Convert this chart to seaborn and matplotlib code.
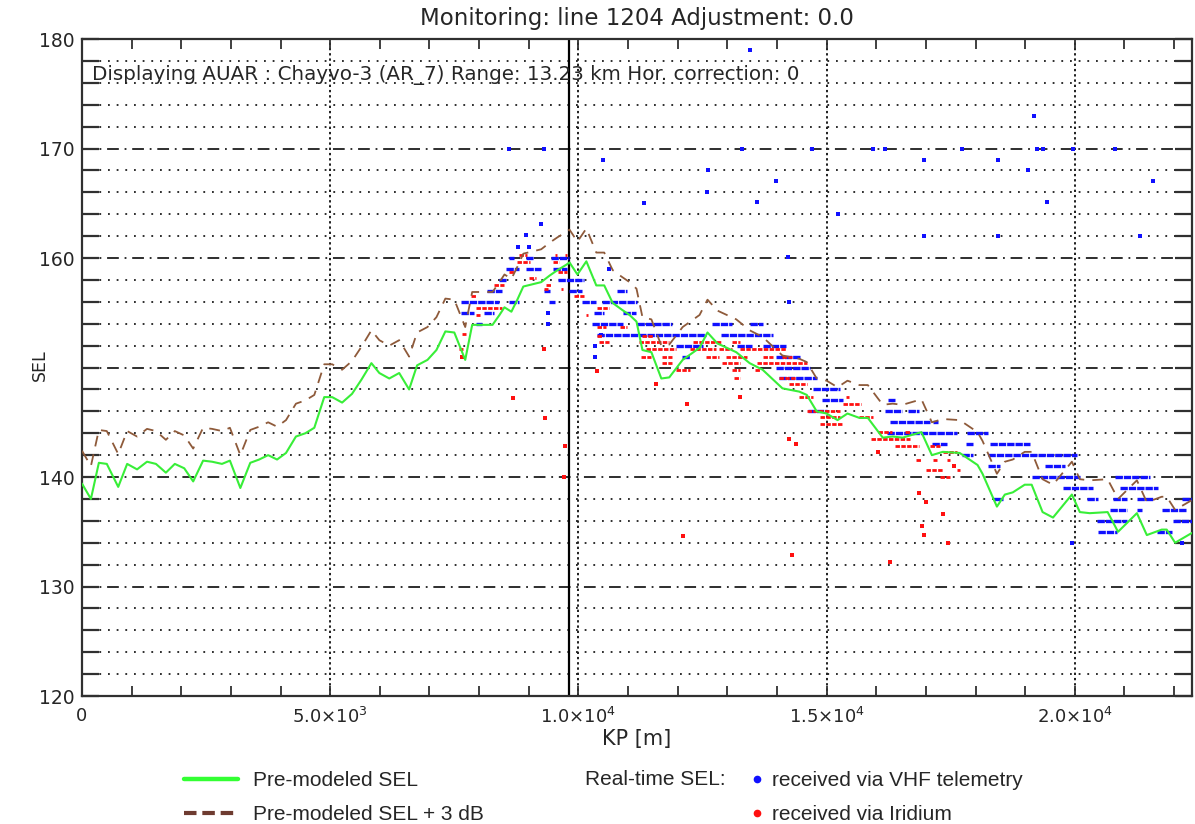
import matplotlib
matplotlib.use("Agg")
import matplotlib.pyplot as plt
from matplotlib.lines import Line2D
from matplotlib.ticker import FixedLocator, FixedFormatter, MultipleLocator
import pandas as pd
import seaborn as sns

# ---------------- data ----------------
kp_model = [0, 180, 340, 500, 730, 910, 1110, 1310, 1490, 1690, 1870, 2060, 2240, 2440, 2620, 2820, 2980,
            3190, 3390, 3570, 3750, 3930, 4110, 4310, 4500, 4680, 4880, 5040, 5240, 5440, 5630, 5830,
            5990, 6190, 6390, 6590, 6750, 6960, 7140, 7320, 7500, 7720, 7860, 8060, 8270, 8410, 8510,
            8650, 8770, 8890, 9070, 9250, 9420, 9580, 9760, 9820, 9980, 10160, 10360, 10520, 10690,
            10870, 11030, 11170, 11290, 11470, 11670, 11830, 12100, 12440, 12600, 12800, 13180, 13450,
            13710, 14110, 14450, 14600, 14800, 15000, 15220, 15420, 15660, 15830, 16130, 16330, 16530,
            16910, 17120, 17340, 17680, 18040, 18140, 18430, 18590, 18750, 18990, 19130, 19350, 19560,
            19940, 20100, 20300, 20660, 20870, 21250, 21450, 21750, 21850, 22020, 22360]
sel_model = [139.4, 138.0, 141.3, 141.2, 139.1, 141.2, 140.7, 141.4, 141.2, 140.4, 141.2, 140.8, 139.6,
             141.5, 141.4, 141.2, 141.5, 139.0, 141.3, 141.6, 142.0, 141.6, 142.2, 143.7, 144.0, 144.5,
             147.3, 147.3, 146.8, 147.6, 148.9, 150.4, 149.5, 149.0, 149.5, 148.0, 150.2, 150.7, 151.6,
             153.3, 153.2, 150.7, 153.9, 153.9, 153.9, 154.8, 155.5, 155.1, 156.2, 157.4, 157.6, 157.8,
             158.4, 158.9, 159.4, 159.6, 158.5, 159.7, 157.5, 157.5, 155.9, 155.3, 154.8, 154.2, 151.6,
             151.4, 149.0, 149.1, 150.7, 151.8, 153.2, 152.2, 151.4, 150.4, 149.8, 148.1, 147.8, 147.5,
             146.0, 145.8, 145.2, 145.8, 145.4, 145.4, 143.6, 143.7, 143.6, 144.1, 142.0, 142.3, 142.2,
             141.1, 140.3, 137.3, 138.4, 138.6, 139.3, 139.3, 136.8, 136.3, 138.4, 136.8, 136.7, 136.8,
             135.0, 136.7, 134.7, 135.2, 135.2, 134.0, 134.9]
sel_model_plus3 = [142.4, 141.0, 144.3, 144.2, 142.1, 144.2, 143.7, 144.4, 144.2, 143.4, 144.2, 143.8, 142.6,
                   144.5, 144.4, 144.2, 144.5, 142.0, 144.3, 144.6, 145.0, 144.6, 145.2, 146.7, 147.0, 147.5,
                   150.3, 150.3, 149.8, 150.6, 151.9, 153.4, 152.5, 152.0, 152.5, 151.0, 153.2, 153.7, 154.6,
                   156.3, 156.2, 153.7, 156.9, 156.9, 156.9, 157.8, 158.5, 158.1, 159.2, 160.4, 160.6, 160.8,
                   161.4, 161.9, 162.4, 162.6, 161.5, 162.7, 160.5, 160.5, 158.9, 158.3, 157.8, 157.2, 154.6,
                   154.4, 152.0, 152.1, 153.7, 154.8, 156.2, 155.2, 154.4, 153.4, 152.8, 151.1, 150.8, 150.5,
                   149.0, 148.8, 148.2, 148.8, 148.4, 148.4, 146.6, 146.7, 146.6, 147.1, 145.0, 145.3, 145.2,
                   144.1, 143.3, 140.3, 141.4, 141.6, 142.3, 142.3, 139.8, 139.3, 141.4, 139.8, 139.7, 139.8,
                   138.0, 139.7, 137.7, 138.2, 138.2, 137.0, 137.9]

# runs of dense real-time readings (VHF telemetry): start KP, end KP, SEL
vhf_run_start = [8610, 8950, 9450, 8550, 8950, 9480, 8410, 9580, 8160, 9310, 9820, 10770,
                 7640, 8610, 9410, 10080, 10480, 7640, 8100, 10320, 10890, 7940, 10280, 11190, 12700, 13450,
                 10380, 12880, 11970, 13200, 13710, 12080, 13990, 13990, 14050, 14720, 14900, 16230,
                 14620, 16170, 16630, 16270, 17140, 16210, 17820, 17130, 17800, 18290, 17720, 18250,
                 18250, 19390, 19130, 20800, 19760, 20900, 18350, 20240, 20770, 21250, 22150,
                 20700, 21250, 21750, 20440, 21970, 20460, 21650]
vhf_run_end = [8710, 9090, 9820, 8810, 9250, 9780, 8550, 10120, 8470, 9420, 10080, 10970,
               8410, 8810, 9520, 10360, 11190, 7900, 8300, 10520, 11170, 8060, 10900, 11890, 13100, 13710,
               12580, 13910, 12500, 13500, 14190, 12240, 14460, 14660, 14800, 15260, 15320, 16370,
               15000, 16510, 16870, 17080, 17240, 17620, 18250, 17420, 17940, 19090, 17940, 20040,
               18490, 19800, 20100, 21510, 20360, 21670, 18550, 20460, 21050, 21570, 22360,
               21050, 21350, 22260, 21050, 22360, 20850, 21950]
vhf_run_sel = [160, 160, 160, 159, 159, 159, 158, 158, 157, 157, 157, 157,
               156, 156, 156, 156, 156, 155, 155, 155, 155, 154, 154, 154, 154, 154,
               153, 153, 152, 152, 152, 151, 151, 150, 149, 148, 147, 147,
               146, 146, 146, 145, 145, 144, 144, 143, 143, 143, 142, 142,
               141, 141, 140, 140, 139, 139, 138, 138, 138, 138, 138,
               137, 137, 137, 136, 136, 135, 135]

# isolated VHF readings
vhf_kp = [13450, 13300, 14700, 15930, 16170, 17720, 19230, 19350, 19960, 20810, 8610, 9310, 12620, 13990,
          13590, 15220, 16970, 18460, 19050, 19170, 19430, 21570, 12600, 16970, 18460, 21310, 14230, 10500,
          11330, 9250, 8950, 8790, 9010, 10340, 10340, 9390, 9390, 10460, 14250, 10620, 19940, 22150]
vhf_sel = [179.0, 170, 170, 170, 170, 170, 170, 170, 170, 170, 170, 170, 168, 167,
           165.1, 164, 169, 169, 168, 173, 165.1, 167, 166, 162, 162, 162, 160.1, 169,
           165, 163.1, 162.1, 161, 161, 152, 151, 155, 154, 153, 156, 159, 134, 134]

# runs of dense real-time readings (Iridium)
iri_run_start = [8810, 9520, 9720, 8770, 9480, 8610, 9580, 9010, 8300, 9350, 9300, 9640, 7840, 9920,
                 7940, 10380, 7940, 10160, 10380, 10830, 7660, 10380, 11290, 10420, 11230, 12300, 13100,
                 7600, 11370, 12240, 12840, 13250, 11270, 11690, 12580, 12980, 13710, 14110,
                 11690, 12900, 13590, 11970, 13100, 13550, 13140, 14050, 14250, 14450, 15400, 15320,
                 14600, 14860, 15660, 14860, 16030, 16570, 15900, 16370, 17080, 17340,
                 16810, 17140, 17420, 17010, 17620, 17280]
iri_run_end = [8970, 9560, 9780, 9030, 9600, 8710, 9760, 9150, 8510, 9450, 9380, 9680, 7940, 10120,
               8470, 10620, 8010, 10200, 10560, 10970, 7740, 10500, 11500, 10620, 11830, 12900, 13250,
               7680, 11970, 12780, 13100, 14190, 11470, 11890, 12840, 13390, 13910, 14310,
               11890, 13250, 14600, 12240, 13250, 13650, 13250, 14390, 14600, 14720, 15460, 15700,
               15260, 15260, 15930, 15320, 16310, 16670, 16670, 16870, 17280, 17620,
               16910, 17220, 17480, 17340, 17680, 17480]
iri_run_sel = [160.3, 160.3, 160.3, 159.6, 159.6, 158.7, 158.7, 158.2, 157.5, 157.5, 157.2, 157.2, 156.5, 156.5,
               155.4, 155.4, 154.8, 154.8, 153.7, 153.7, 153.1, 152.9, 152.9, 152.3, 152.3, 152.3, 152.3,
               151.7, 151.7, 151.7, 151.7, 151.7, 151.0, 151.0, 151.0, 151.0, 151.0, 151.0,
               150.4, 150.4, 150.4, 149.8, 149.8, 149.8, 149.0, 149.0, 148.5, 147.3, 147.3, 146.7,
               146.0, 145.5, 145.5, 144.8, 144.1, 144.1, 143.5, 142.8, 142.8, 142.3,
               141.6, 141.6, 141.6, 140.6, 140.6, 140.0]

# isolated Iridium readings
iri_kp = [8690, 9330, 9310, 11570, 12180, 13250, 14250, 14390, 16870, 17010, 17340, 16930, 16970, 17440,
          16270, 12100, 14310, 9720, 9700, 10380, 16030, 17560, 7660]
iri_sel = [147.2, 145.4, 151.7, 148.5, 146.7, 147.3, 143.5, 143.0, 138.5, 137.7, 136.6, 135.5, 134.7, 134.0,
           132.2, 134.6, 132.9, 142.8, 140.0, 149.7, 142.3, 141.0, 151.0]

current_kp = 9820

x_tick_values = [0, 5000, 10000, 15000, 20000]
x_tick_labels = ['0', r'$5.0{\times}10^{3}$', r'$1.0{\times}10^{4}$', r'$1.5{\times}10^{4}$', r'$2.0{\times}10^{4}$']
y_tick_values = [120, 130, 140, 150, 160, 170, 180]
y_tick_labels = ['120', '130', '140', '', '160', '170', '180']   # 150 is hidden behind the axis title

title_text = "Monitoring: line 1204 Adjustment: 0.0"
info_text = "Displaying AUAR : Chayvo-3 (AR_7) Range: 13.23 km Hor. correction: 0"

assert len(kp_model) == len(sel_model) == len(sel_model_plus3)

# ---------------- style ----------------
sns.set_style("white")
plt.rcParams['font.family'] = ['DejaVu Sans']
plt.rcParams['mathtext.fontset'] = 'dejavusans'

GREEN = '#38ee38'
BROWN = '#8e5a3a'
BLUE = '#1010ff'
RED = '#ff1010'
GRID = '#1e1e1e'

fig = plt.figure(figsize=(11.95, 8.24), dpi=100)
ax = fig.add_axes([0.0686, 0.1553, 0.9289, 0.7973])

ax.set_xlim(0, 22360)
ax.set_ylim(120, 180)

# grid
ax.yaxis.set_major_locator(FixedLocator(y_tick_values))
ax.yaxis.set_major_formatter(FixedFormatter(y_tick_labels))
ax.yaxis.set_minor_locator(MultipleLocator(2))
ax.xaxis.set_major_locator(FixedLocator(x_tick_values))
ax.xaxis.set_major_formatter(FixedFormatter(x_tick_labels))
ax.xaxis.set_minor_locator(MultipleLocator(1000))
ax.set_axisbelow(True)
ax.yaxis.grid(True, which='minor', color=GRID, linewidth=1.3, linestyle=(0, (1, 3.8)))
ax.yaxis.grid(True, which='major', color=GRID, linewidth=1.3, linestyle=(0, (6.5, 3.2, 1, 3.2)))
ax.xaxis.grid(True, which='major', color=GRID, linewidth=1.4, linestyle=(0, (1.2, 1.5)))
ax.xaxis.grid(False, which='minor')

ax.axvline(current_kp, color='black', linewidth=1.6, zorder=2)

# real-time readings
ax.hlines(vhf_run_sel, vhf_run_start, vhf_run_end, colors=BLUE, linewidth=2.4,
          linestyles=[(0, (2.2, 0.3))], zorder=3)
sns.scatterplot(x=vhf_kp, y=vhf_sel, ax=ax, color=BLUE, s=6, marker='s', linewidth=0, zorder=3)
ax.hlines(iri_run_sel, iri_run_start, iri_run_end, colors=RED, linewidth=2.0,
          linestyles=[(0, (1.6, 0.5))], zorder=3)
sns.scatterplot(x=iri_kp, y=iri_sel, ax=ax, color=RED, s=7, marker='s', linewidth=0, zorder=3)

# modelled lines
df = pd.DataFrame({'KP': kp_model, 'SEL': sel_model, 'SEL3': sel_model_plus3})
sns.lineplot(data=df, x='KP', y='SEL3', ax=ax, color=BROWN, linewidth=1.3,
             linestyle=(0, (6, 4.5)), estimator=None, sort=False, zorder=4)
sns.lineplot(data=df, x='KP', y='SEL', ax=ax, color=GREEN, linewidth=1.5,
             estimator=None, sort=False, zorder=5)

# ticks / spines
for s in ax.spines.values():
    s.set_color('#303030')
    s.set_linewidth(1.6)
    s.set_visible(True)
ax.tick_params(axis='y', which='both', direction='in', left=True, right=True, length=12,
               width=1.6, color='#303030', labelsize=13.5, pad=5)
ax.tick_params(axis='x', which='both', direction='in', bottom=True, top=True, length=7,
               width=1.3, color='#303030', labelsize=13, pad=8)
ax.set_xlabel("KP [m]", fontsize=15, labelpad=1)
ax.set_ylabel("SEL", fontsize=12.5)
ax.yaxis.set_label_coords(-0.030, 0.504)
ax.set_title(title_text, fontsize=16.5, pad=10)
ax.text(0.009, 0.946, info_text, transform=ax.transAxes, fontsize=14.3, va='center', ha='left')

# legends
leg_font = {'family': ['Liberation Sans', 'DejaVu Sans'], 'size': 15}
h1 = [Line2D([], [], color='#33ff33', linewidth=3.2),
      Line2D([], [], color='#6e3b30', linewidth=3.0, linestyle=(0, (3.0, 1.4)))]
fig.legend(h1, ["Pre-modeled SEL", "Pre-modeled SEL + 3 dB"], loc='upper left',
           bbox_to_anchor=(0.154, 0.0645), frameon=False, prop=leg_font,
           handlelength=2.6, handletextpad=0.7, labelspacing=0.74, borderpad=0, borderaxespad=0)
h2 = [Line2D([], [], color=BLUE, marker='o', linestyle='none', markersize=4.5),
      Line2D([], [], color=RED, marker='o', linestyle='none', markersize=4.5)]
fig.legend(h2, ["received via VHF telemetry", "received via Iridium"], loc='upper left',
           bbox_to_anchor=(0.628, 0.0645), frameon=False, prop=leg_font,
           handlelength=0.6, handletextpad=0.45, labelspacing=0.74, borderpad=0, borderaxespad=0)
fig.text(0.4895, 0.0545, "Real-time SEL:", fontsize=15, family=['Liberation Sans', 'DejaVu Sans'],
         va='center', ha='left')

fig.savefig("out.png", dpi=100)
